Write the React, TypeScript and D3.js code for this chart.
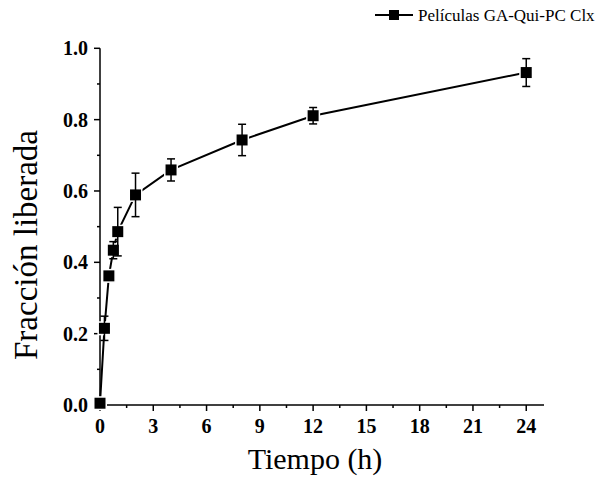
import React from "react";
import * as d3 from "d3";

const times = [0, 0.25, 0.5, 0.75, 1, 2, 4, 8, 12, 24];
const values = [0.005, 0.215, 0.362, 0.434, 0.486, 0.589, 0.659, 0.743, 0.811, 0.932];
const errors = [0, 0.034, 0.01, 0.024, 0.068, 0.061, 0.031, 0.044, 0.023, 0.039];
const xTicks = [0, 3, 6, 9, 12, 15, 18, 21, 24];
const xMinor = [1.5, 4.5, 7.5, 10.5, 13.5, 16.5, 19.5, 22.5];
const yTicks = [0, 0.2, 0.4, 0.6, 0.8, 1.0];
const yMinor = [0.1, 0.3, 0.5, 0.7, 0.9];
const seriesName = "Películas GA-Qui-PC Clx";
const xTitle = "Tiempo (h)";
const yTitle = "Fracción liberada";

export default function App() {
  const W = 597, H = 481;
  const x = d3.scaleLinear().domain([0, 25]).range([100, 544]);
  const y = d3.scaleLinear().domain([0, 1]).range([405, 48.3]);
  const line = d3.line<number>().x((d, i) => x(times[i])).y((d) => y(d));
  const font = "'Liberation Serif', 'Times New Roman', serif";
  const ms = 12.5;
  return (
    <svg width={W} height={H} style={{ position: "absolute", left: 0, top: 0, background: "#fff" }} fontFamily={font}>
      <rect width={W} height={H} fill="#fff" />
      <line x1={x(0)} x2={x(0)} y1={y(0)} y2={y(1)} stroke="#000" strokeWidth={1.5} />
      <line x1={x(0)} x2={x(25)} y1={y(0)} y2={y(0)} stroke="#000" strokeWidth={1.5} />
      {yTicks.map((t) => (
        <g key={"yt" + t}>
          <line x1={x(0) - 6} x2={x(0)} y1={y(t)} y2={y(t)} stroke="#000" strokeWidth={1.5} />
          <text x={88} y={y(t)} dy="0.35em" textAnchor="end" fontSize={20} fontWeight="bold">{d3.format(".1f")(t)}</text>
        </g>
      ))}
      {yMinor.map((t) => (
        <line key={"ym" + t} x1={x(0) - 3} x2={x(0)} y1={y(t)} y2={y(t)} stroke="#000" strokeWidth={1.5} />
      ))}
      {xTicks.map((t) => (
        <g key={"xt" + t}>
          <line x1={x(t)} x2={x(t)} y1={y(0)} y2={y(0) + 6} stroke="#000" strokeWidth={1.5} />
          <text x={x(t)} y={433} textAnchor="middle" fontSize={20} fontWeight="bold">{t}</text>
        </g>
      ))}
      {xMinor.map((t) => (
        <line key={"xm" + t} x1={x(t)} x2={x(t)} y1={y(0)} y2={y(0) + 3} stroke="#000" strokeWidth={1.5} />
      ))}
      <text x={315} y={469} textAnchor="middle" fontSize={30}>{xTitle}</text>
      <text transform={`translate(37,245) rotate(-90)`} textAnchor="middle" fontSize={33}>{yTitle}</text>
      <path d={line(values) || ""} fill="none" stroke="#000" strokeWidth={2} />
      {values.map((v, i) => (
        <rect key={"m" + i} x={x(times[i]) - ms / 2} y={y(v) - ms / 2} width={ms} height={ms} fill="#000" stroke="#fff" strokeWidth={1.5} />
      ))}
      {values.map((v, i) =>
        errors[i] > 0 ? (
          <g key={"e" + i} stroke="#000" strokeWidth={1.5}>
            <line x1={x(times[i])} x2={x(times[i])} y1={y(v + errors[i])} y2={y(v - errors[i])} />
            <line x1={x(times[i]) - 4} x2={x(times[i]) + 4} y1={y(v + errors[i])} y2={y(v + errors[i])} />
            <line x1={x(times[i]) - 4} x2={x(times[i]) + 4} y1={y(v - errors[i])} y2={y(v - errors[i])} />
          </g>
        ) : null
      )}
      <line x1={375} x2={413} y1={15} y2={15} stroke="#000" strokeWidth={2} />
      <rect x={389} y={10} width={10} height={10} fill="#000" />
      <text x={418} y={21} fontSize={17}>{seriesName}</text>
    </svg>
  );
}
